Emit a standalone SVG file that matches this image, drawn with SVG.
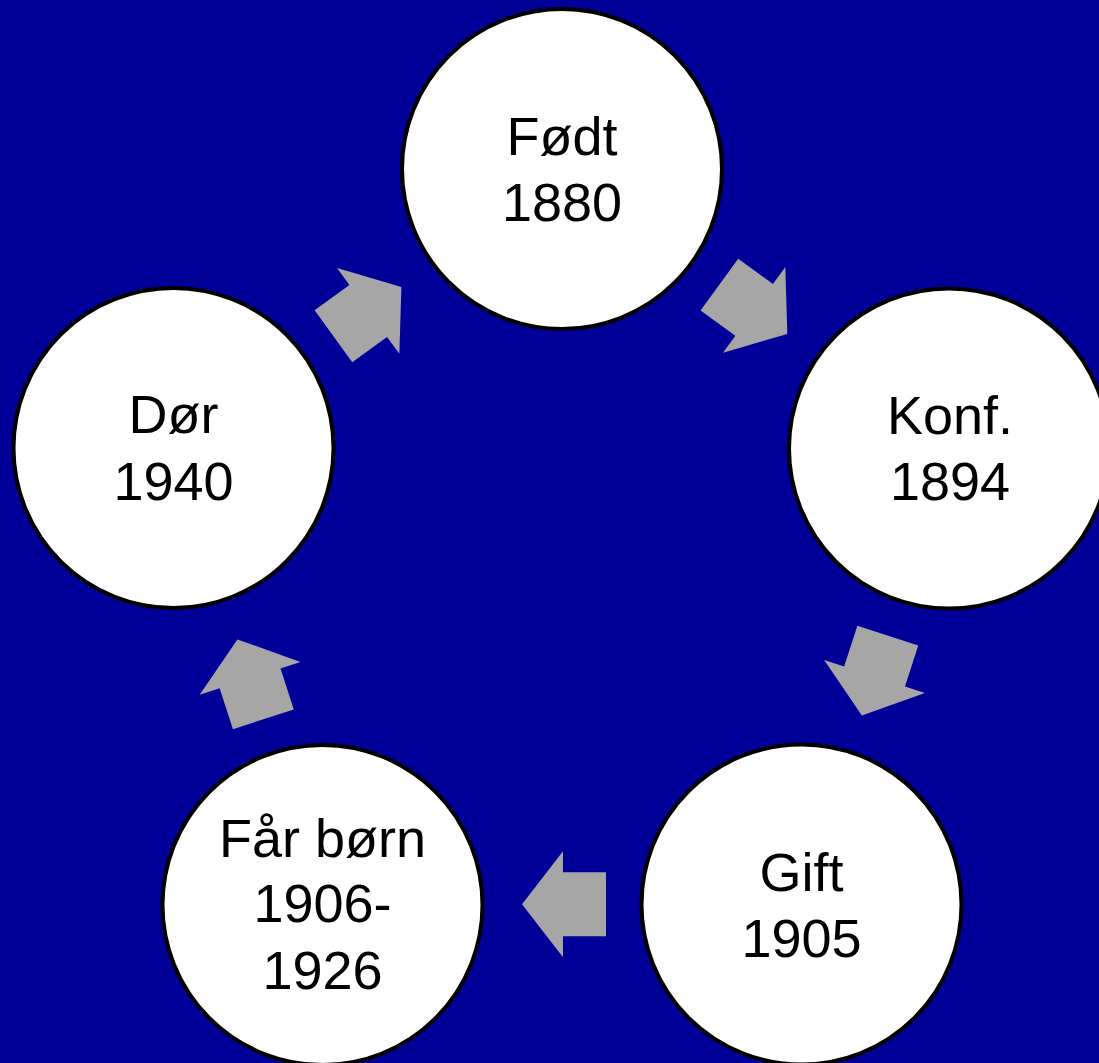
<svg xmlns="http://www.w3.org/2000/svg" xmlns:xlink="http://www.w3.org/1999/xlink" width="1099" height="1063" viewBox="0 0 1099 1063">
  <style>
    .node circle { fill: #FFFFFF; stroke: #000000; stroke-width: 4; }
    .node text { font-family: "Comic Sans MS", "Liberation Sans", Arial, sans-serif; font-size: 54px; fill: #000000; text-anchor: middle; }
    .arrow { fill: #A6A6A6; stroke: none; }
  </style>
  <defs>
    <polygon id="blockArrow" class="arrow" points="-42,0 -1,-53 -1,-32 42,-32 42,32 -1,32 -1,53"/>
  </defs>
  <rect x="0" y="0" width="1099" height="1063" fill="#000099"/>

  <g id="connectors">
    <use xlink:href="#blockArrow" transform="translate(562 576) rotate(0) translate(2 328.3)"/>
    <use xlink:href="#blockArrow" transform="translate(562 576) rotate(72) translate(2 328.3)"/>
    <use xlink:href="#blockArrow" transform="translate(562 576) rotate(144) translate(2 328.3)"/>
    <use xlink:href="#blockArrow" transform="translate(562 576) rotate(216) translate(2 328.3)"/>
    <use xlink:href="#blockArrow" transform="translate(562 576) rotate(288) translate(2 328.3)"/>
  </g>

  <g id="node-fodt" class="node">
    <circle cx="562" cy="169" r="160"/>
    <text x="562" y="155">Født</text>
    <text x="562" y="221">1880</text>
  </g>

  <g id="node-konf" class="node">
    <circle cx="949" cy="448.5" r="160"/>
    <text x="950" y="434">Konf.</text>
    <text x="950" y="500">1894</text>
  </g>

  <g id="node-gift" class="node">
    <circle cx="801.5" cy="904.5" r="160"/>
    <text x="801.5" y="891">Gift</text>
    <text x="801.5" y="957">1905</text>
  </g>

  <g id="node-faar" class="node">
    <circle cx="322.5" cy="905" r="160"/>
    <text x="322.5" y="857">Får børn</text>
    <text x="322.5" y="922">1906-</text>
    <text x="322.5" y="989">1926</text>
  </g>

  <g id="node-dor" class="node">
    <circle cx="173.5" cy="448" r="160"/>
    <text x="173.5" y="433">Dør</text>
    <text x="173.5" y="500">1940</text>
  </g>
</svg>
